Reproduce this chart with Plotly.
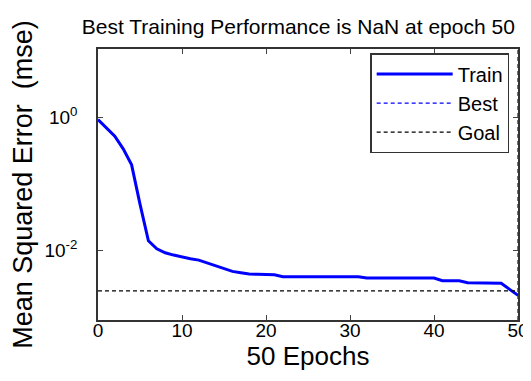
import plotly.graph_objects as go

epochs = list(range(0, 51))
train_mse = [
    0.933, 0.692, 0.525, 0.339, 0.195, 0.0501, 0.01413, 0.01072, 0.00933, 0.00861,
    0.00804, 0.00759, 0.00724, 0.00661, 0.00603, 0.00537, 0.00490, 0.00468, 0.00447, 0.00442,
    0.00437, 0.00437, 0.00407, 0.00407, 0.00407, 0.00407, 0.00407, 0.00407, 0.00407, 0.00407,
    0.00407, 0.00407, 0.00389, 0.00389, 0.00389, 0.00389, 0.00389, 0.00389, 0.00389, 0.00389,
    0.00389, 0.00355, 0.00355, 0.00355, 0.00331, 0.00331, 0.00331, 0.00331, 0.00324, 0.00263,
    0.00214,
]
best_epoch = 50
goal_mse = 0.0025
y_log_range = [-3.04, 1.03]
x_ticks = [0, 10, 20, 30, 40, 50]
y_tick_vals = [1, 0.01]
y_tick_text = ["10<sup>0</sup>", "10<sup>-2</sup>"]

FONT = "Arial, Liberation Sans, sans-serif"

fig = go.Figure()
fig.add_trace(go.Scatter(
    x=epochs, y=train_mse, mode="lines", name="Train",
    line=dict(color="#0000ff", width=3),
))
fig.add_trace(go.Scatter(
    x=[best_epoch, best_epoch], y=[10 ** y_log_range[0], 10 ** y_log_range[1]],
    mode="lines", name="Best",
    line=dict(color="#0000ff", width=1.2, dash="4px,3px"),
))
fig.add_trace(go.Scatter(
    x=[epochs[0], epochs[-1]], y=[goal_mse, goal_mse], mode="lines", name="Goal",
    line=dict(color="black", width=1.2, dash="4px,3px"),
))

fig.update_layout(
    width=531, height=381,
    margin=dict(l=90, r=10, t=41, b=69),
    paper_bgcolor="white", plot_bgcolor="white",
    font=dict(family=FONT, color="black"),
    title=dict(text="Best Training Performance is NaN at epoch 50",
               x=0.139, xanchor="left", y=0.95, yanchor="middle",
               yref="container", font=dict(size=21)),
    showlegend=True,
    legend=dict(x=0.979, xanchor="right", y=0.985, yanchor="top",
                bgcolor="white", bordercolor="#333333", borderwidth=1.5,
                font=dict(size=20), tracegroupgap=0, itemwidth=76),
)
fig.update_xaxes(
    range=[0, 50], tickvals=x_ticks, ticks="inside", ticklen=5,
    showline=True, linecolor="#333333", linewidth=1.5, mirror="ticks",
    showgrid=False, zeroline=False, tickfont=dict(size=19), ticklabelstandoff=-8,
    title=dict(text="50 Epochs", font=dict(size=26), standoff=5),
)
fig.update_yaxes(
    type="log", range=y_log_range, tickvals=y_tick_vals, ticktext=y_tick_text,
    ticks="inside", ticklen=5,
    showline=True, linecolor="#333333", linewidth=1.5, mirror="ticks",
    showgrid=False, zeroline=False, tickfont=dict(size=19), ticklabelstandoff=15,
    title=dict(text="Mean Squared Error  (mse)", font=dict(size=27), standoff=4),
)

fig.write_html("out.html")
